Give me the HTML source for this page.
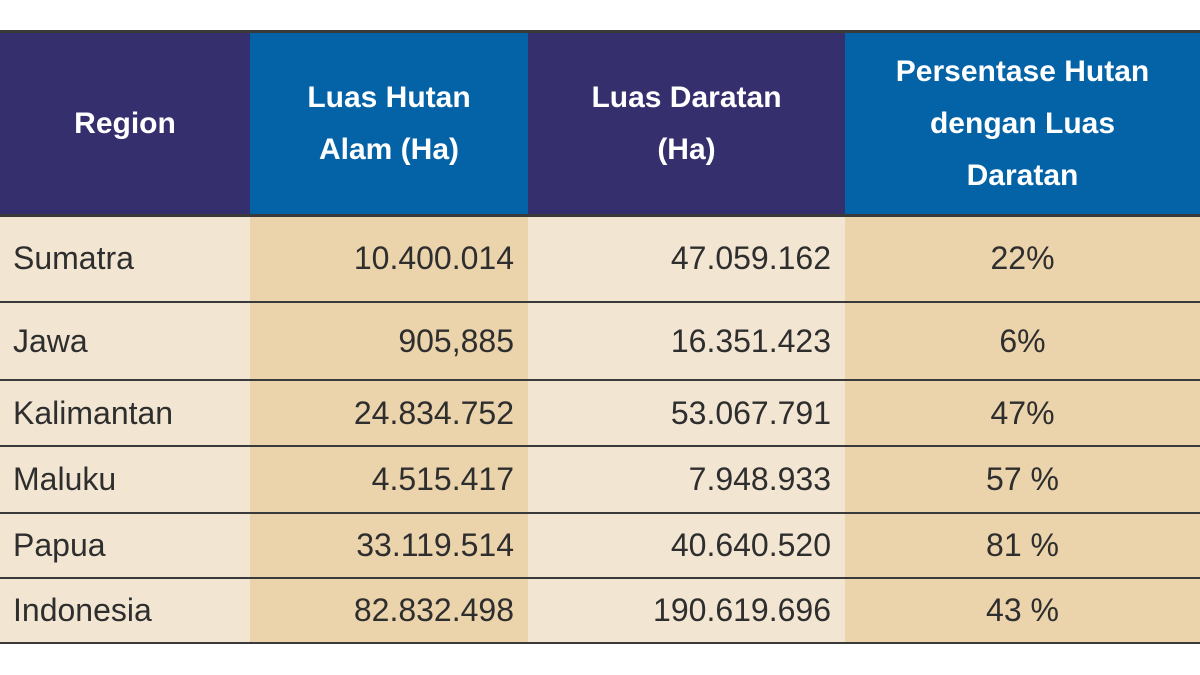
<!DOCTYPE html>
<html><head><meta charset="utf-8"><style>
body{margin:0;width:1200px;height:675px;background:#fff;position:relative;overflow:hidden;font-family:"Liberation Sans",sans-serif}
.c{position:absolute;box-sizing:border-box;display:flex;align-items:center}
.h{color:#fff;font-weight:bold;font-size:30px;line-height:52px;justify-content:center;text-align:center}
.b{color:#2e2e2e;font-size:32px}
.line{position:absolute;left:0;width:1200px;background:#3a3a3a}
</style></head><body>
<div id="t"></div>
<script>
const regions=["Sumatra","Jawa","Kalimantan","Maluku","Papua","Indonesia"];
const forest=["10.400.014","905,885","24.834.752","4.515.417","33.119.514","82.832.498"];
const land=["47.059.162","16.351.423","53.067.791","7.948.933","40.640.520","190.619.696"];
const pct=["22%","6%","47%","57 %","81 %","43 %"];
const headers=["Region","Luas Hutan<br>Alam (Ha)","Luas Daratan<br>(Ha)","Persentase Hutan<br>dengan Luas<br>Daratan"];
const cols=[0,250,528,845,1200];
const rows=[215,302,380,446,513,578,643];
const hb=["#352f6e","#0463a6","#352f6e","#0463a6"];
const bb=["#f2e5d2","#ebd3ab","#f2e5d2","#ebd3ab"];
const t=document.getElementById('t');
function cell(x,y,w,h,cls,bg,html,align){const d=document.createElement('div');d.className='c '+cls;d.style.cssText=`left:${x}px;top:${y}px;width:${w}px;height:${h}px;background:${bg};`;if(align)d.style.justifyContent=align;d.innerHTML=html;document.body.appendChild(d);return d;}
for(let i=0;i<4;i++){const d=cell(cols[i],32,cols[i+1]-cols[i],183,'h',hb[i],headers[i]);

}
for(let r=0;r<regions.length;r++){const y=rows[r],h=rows[r+1]-rows[r];const vals=[regions[r],forest[r],land[r],pct[r]];
for(let i=0;i<4;i++){const al=i==0?'flex-start':(i==3?'center':'flex-end');const d=cell(cols[i],y,cols[i+1]-cols[i],h,'b',bb[i],vals[i],al);
d.style.padding=i==0?'0 0 0 13px':(i==3?'0':'0 14px 0 0');

}}
const lines=[[30,3],[214,3],...rows.slice(1).map(y=>[y-1,2])];
for(const [y,h] of lines){const l=document.createElement('div');l.className='line';l.style.top=y+'px';l.style.height=h+'px';document.body.appendChild(l);

}
</script>
</body></html>
